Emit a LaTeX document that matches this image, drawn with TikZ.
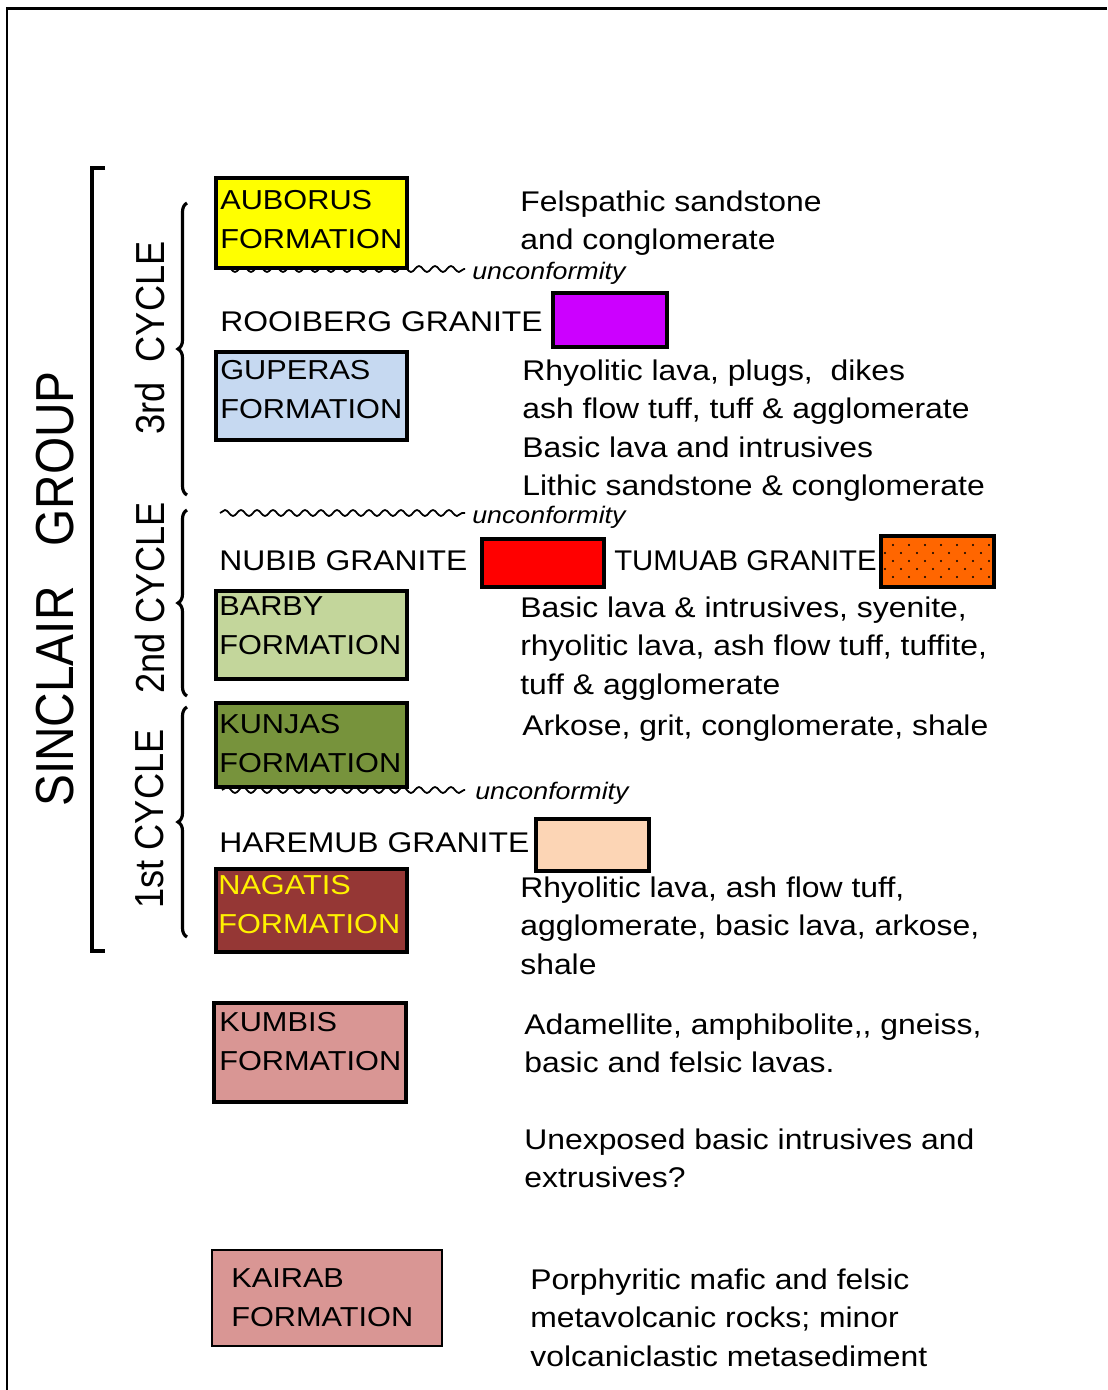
\documentclass[tikz,border=0pt]{standalone}
\usepackage{fontspec}
\setmainfont{Liberation Sans}[FakeStretch=1.12]
\newfontfamily\sidefont{Liberation Sans}
\usepackage{xcolor}
\usepackage{tikz}
\usetikzlibrary{decorations.pathmorphing,decorations.pathreplacing}

\definecolor{auboruscol}{RGB}{255,255,0}
\definecolor{guperascol}{RGB}{198,217,241}
\definecolor{barbycol}{RGB}{195,214,155}
\definecolor{kunjascol}{RGB}{119,147,60}
\definecolor{nagatiscol}{RGB}{149,55,53}
\definecolor{kumbiscol}{RGB}{217,150,148}
\definecolor{rooibergcol}{RGB}{204,0,255}
\definecolor{nubibcol}{RGB}{255,0,0}
\definecolor{tumuabcol}{RGB}{255,102,0}
\definecolor{haremubcol}{RGB}{252,213,181}

\tikzset{
  formation/.style={draw, line width=2.3pt, rectangle, anchor=north west,
    minimum width=3.82cm, inner sep=0pt},
  boxtext/.style={anchor=base west, inner sep=0pt, align=left, font=\fontsize{15.6}{21.8}\selectfont},
  granite/.style={draw, line width=2.3pt, rectangle, anchor=north west, inner sep=0pt},
  granitename/.style={anchor=base west, inner sep=0pt, font=\fontsize{16.2}{21.8}\selectfont},
  rocks/.style={anchor=base west, inner sep=0pt, align=left, font=\fontsize{16.2}{21.8}\selectfont},
  unconf/.style={anchor=base west, inner sep=0pt, font=\fontsize{13.6}{16}\selectfont\itshape},
  sidetext/.style={inner sep=0pt, xscale=1.12, rotate=90},
  wavy/.style={line width=1pt, decorate, decoration={snake, segment length=0.32cm, amplitude=0.06cm}},
  cyclebrace/.style={line width=1.8pt, decorate, decoration={brace, amplitude=0.18cm}}
}

\begin{document}
\begin{tikzpicture}[x=0.02cm, y=-0.02cm]

\useasboundingbox (0,0) rectangle (1107,1390);

\draw[line width=1.7pt] (7,1390) -- (7,8.5) -- (1107,8.5);

\draw[line width=2.3pt] (105,168) -- (92,168) -- (92,951) -- (105,951);

\node[sidetext, font=\sidefont\fontsize{27.2}{30}\selectfont] (sinclair) at (55,589) {SINCLAIR~~~GROUP};
\node[sidetext, font=\sidefont\fontsize{20.6}{24}\selectfont] (cycle3) at (150,338) {3rd~~CYCLE};
\node[sidetext, font=\sidefont\fontsize{20.6}{24}\selectfont] (cycle2) at (150,598) {2nd CYCLE};
\node[sidetext, font=\sidefont\fontsize{20.6}{24}\selectfont] (cycle1) at (150,819) {1st CYCLE};

\draw[cyclebrace] (187,495) -- (187,203);
\draw[cyclebrace] (187,696) -- (187,510);
\draw[cyclebrace] (187,937) -- (187,707);

\draw[wavy] (222,269) -- (465,269);
\node[unconf] (unc3) at (472,279) {unconformity};
\draw[wavy] (220,513) -- (465,513);
\node[unconf] (unc2) at (472,523) {unconformity};
\draw[wavy] (222,790) -- (465,790);
\node[unconf] (unc1) at (475,799) {unconformity};

\node[formation, fill=auboruscol, minimum height=1.80cm] (auborus) at (214,176) {};
\node[boxtext] (auborusname) at (220,248) {AUBORUS\\FORMATION};
\node[formation, fill=guperascol, minimum height=1.76cm] (guperas) at (214,350) {};
\node[boxtext] (guperasname) at (220,418) {GUPERAS\\FORMATION};
\node[formation, fill=barbycol, minimum height=1.76cm] (barby) at (214,589) {};
\node[boxtext] (barbyname) at (219,654) {BARBY\\FORMATION};
\node[formation, fill=kunjascol, minimum height=1.68cm] (kunjas) at (214,701) {};
\node[boxtext] (kunjasname) at (219,772) {KUNJAS\\FORMATION};
\node[formation, fill=nagatiscol, minimum height=1.66cm] (nagatis) at (214,867) {};
\node[boxtext, text=yellow] (nagatisname) at (218,933) {NAGATIS\\FORMATION};
\node[formation, fill=kumbiscol, minimum width=3.84cm, minimum height=1.98cm] (kumbis) at (212,1001) {};
\node[boxtext] (kumbisname) at (219,1070) {KUMBIS\\FORMATION};
\node[formation, fill=kumbiscol, line width=1.2pt, minimum width=4.6cm, minimum height=1.92cm] (kairab) at (211,1249) {};
\node[boxtext] (kairabname) at (231,1326) {KAIRAB\\FORMATION};

\node[granitename] (rooiberg) at (220,331) {ROOIBERG GRANITE};
\node[granite, fill=rooibergcol, minimum width=2.28cm, minimum height=1.08cm] (rooibergbox) at (551,291) {};
\node[granitename] (nubib) at (219,570) {NUBIB GRANITE};
\node[granite, fill=nubibcol, minimum width=2.44cm, minimum height=0.96cm] (nubibbox) at (480,537) {};
\node[granitename, xscale=0.92] (tumuab) at (614,570) {TUMUAB GRANITE};
\node[granite, fill=tumuabcol, minimum width=2.26cm, minimum height=1.02cm] (tumuabbox) at (879,534) {};
\foreach \r in {0,...,5}
  \foreach \c in {0,...,6}
    \fill ({885+16*\c+8*mod(\r,2)},{537+8*\r}) circle (0.022cm);
\node[granitename] (haremub) at (219,852) {HAREMUB GRANITE};
\node[granite, fill=haremubcol, minimum width=2.26cm, minimum height=1.04cm] (haremubbox) at (534,817) {};

\node[rocks] (auborusrock) at (520,249.5) {Felspathic sandstone\\and conglomerate};
\node[rocks] (guperasrock) at (522,495.5) {Rhyolitic lava, plugs,~ dikes\\ash flow tuff, tuff \& agglomerate\\Basic lava and intrusives\\Lithic sandstone \& conglomerate};
\node[rocks] (barbyrock) at (520,694) {Basic lava \& intrusives, syenite,\\rhyolitic lava, ash flow tuff, tuffite,\\tuff \& agglomerate};
\node[rocks] (kunjasrock) at (522,735) {Arkose, grit, conglomerate, shale};
\node[rocks] (nagatisrock) at (520,974) {Rhyolitic lava, ash flow tuff,\\agglomerate, basic lava, arkose,\\shale};
\node[rocks] (kumbisrock) at (524,1072.5) {Adamellite, amphibolite,\hbox{,} gneiss,\\basic and felsic lavas.};
\node[rocks] (unexposed) at (524,1187.5) {Unexposed basic intrusives and\\extrusives?};
\node[rocks] (kairabrock) at (530,1366) {Porphyritic mafic and felsic\\metavolcanic rocks; minor\\volcaniclastic metasediment};

\end{tikzpicture}
\end{document}
